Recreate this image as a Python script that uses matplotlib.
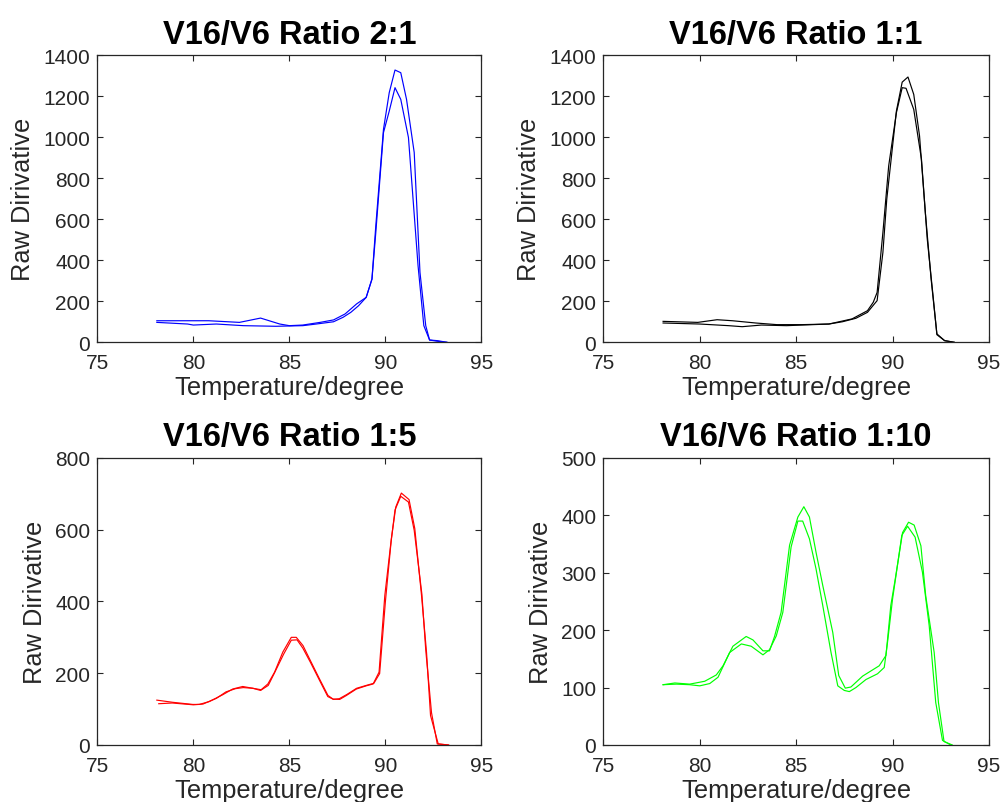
import matplotlib
matplotlib.use("Agg")
import matplotlib.pyplot as plt

plt.rcParams["font.family"] = ["Liberation Sans", "DejaVu Sans"]

# melt-curve derivative data (two replicates per ratio)
t_21a = [78.1, 80.8, 82.4, 83.5, 84.5, 85.0, 85.7, 86.6, 87.3, 87.9, 88.5, 89.0, 89.3,
         89.5, 89.9, 90.2, 90.5, 90.8, 91.1, 91.5, 91.8, 92.1, 92.3, 92.7, 93.2]
v_21a = [105, 105, 97, 118, 89, 81, 84, 97, 109, 138, 187, 219, 308,
         568, 1038, 1217, 1327, 1314, 1184, 925, 341, 81, 11, 8, 0]
t_21b = [78.1, 79.7, 80.0, 81.2, 82.6, 84.3, 85.7, 86.4, 87.3, 87.8, 88.2, 88.6, 89.0,
         89.3, 89.5, 89.9, 90.2, 90.5, 90.8, 91.2, 91.7, 92.0, 92.3, 92.7, 93.2]
v_21b = [97, 89, 84, 89, 81, 78, 81, 89, 100, 122, 146, 178, 219,
         308, 535, 1022, 1127, 1241, 1184, 998, 373, 81, 11, 5, 0]

t_11a = [78.1, 79.9, 80.9, 81.7, 82.9, 84.0, 85.3, 86.7, 87.4, 88.1, 88.7, 89.2,
         89.5, 89.7, 90.2, 90.5, 90.8, 91.1, 91.4, 91.7, 92.0, 92.3, 92.7, 93.2]
v_11a = [102, 97, 110, 105, 94, 86, 86, 89, 100, 117, 146, 203,
         438, 697, 1127, 1268, 1293, 1208, 1006, 633, 308, 41, 8, 0]
t_11b = [78.1, 80.0, 81.5, 82.2, 83.2, 84.5, 86.7, 87.9, 88.7, 89.0, 89.2, 89.5,
         89.8, 90.2, 90.5, 90.7, 91.1, 91.5, 91.8, 92.1, 92.3, 92.7, 93.2]
v_11b = [94, 89, 81, 76, 84, 81, 89, 114, 154, 195, 243, 535,
         860, 1119, 1241, 1238, 1135, 892, 503, 227, 37, 8, 0]

t_15a = [78.10, 78.92, 79.97, 80.31, 80.83, 81.53, 82.05, 82.57, 83.10, 83.53, 83.88, 84.23,
         84.66, 85.10, 85.36, 85.71, 86.05, 86.57, 87.01, 87.27, 87.62, 87.97, 88.49, 89.01,
         89.36, 89.67, 89.97, 90.31, 90.54, 90.83, 91.23, 91.53, 91.88, 92.14, 92.35, 92.75, 93.27]
v_15a = [125, 119, 113, 113, 121, 140, 156, 163, 158, 154, 170, 203,
         259, 300, 300, 277, 240, 184, 138, 128, 127, 138, 156, 165,
         170, 203, 417, 575, 663, 702, 684, 603, 417, 259, 82, 3, 0]
t_15b = [78.2, 78.9, 80.0, 80.5, 81.2, 81.7, 82.2, 82.6, 83.1, 83.5, 83.9, 84.2,
         84.7, 85.1, 85.4, 85.7, 86.1, 86.6, 87.0, 87.3, 87.6, 88.0, 88.5, 89.0,
         89.4, 89.7, 90.0, 90.3, 90.5, 90.8, 91.2, 91.5, 91.9, 92.1, 92.4, 92.7, 93.3]
v_15b = [115, 117, 112, 114, 130, 148, 157, 160, 158, 152, 166, 198,
         253, 292, 293, 270, 230, 177, 135, 127, 129, 141, 158, 166,
         172, 199, 400, 568, 655, 693, 677, 598, 420, 265, 90, 3, 0]

t_110a = [78.10, 78.71, 79.48, 80.26, 80.86, 81.21, 81.72, 82.41, 82.76, 83.28, 83.62, 83.88,
          84.22, 84.66, 85.09, 85.40, 85.69, 86.03, 86.38, 86.90, 87.21, 87.55, 87.84, 88.45,
          89.31, 89.66, 89.91, 90.14, 90.52, 90.83, 91.12, 91.47, 91.72, 92.16, 92.38, 92.67, 93.10]
v_110a = [105, 108, 106, 111, 122, 138, 172, 189, 183, 164, 164, 189,
          231, 348, 397, 415, 397, 336, 278, 196, 121, 99, 101, 120,
          138, 156, 243, 289, 370, 388, 383, 347, 260, 161, 74, 6, 0]
t_110b = [78.10, 78.79, 79.48, 80.00, 80.52, 80.95, 81.55, 82.16, 82.67, 83.28, 83.62, 83.97,
          84.31, 84.74, 85.09, 85.34, 85.69, 86.03, 86.38, 86.81, 87.16, 87.50, 87.76, 88.10,
          88.62, 89.22, 89.57, 89.74, 90.00, 90.48, 90.78, 91.17, 91.55, 91.90, 92.24, 92.59, 93.02]
v_110b = [105, 106, 105, 103, 107, 118, 161, 176, 172, 157, 166, 190,
          231, 345, 390, 390, 359, 307, 243, 161, 103, 95, 93, 100,
          114, 124, 135, 179, 254, 365, 381, 362, 301, 208, 74, 8, 0]

titles = ["V16/V6 Ratio 2:1", "V16/V6 Ratio 1:1", "V16/V6 Ratio 1:5", "V16/V6 Ratio 1:10"]
colors = ["#0000FF", "#000000", "#FF0000", "#00FF00"]
ylims = [1400, 1400, 800, 500]
ysteps = [200, 200, 200, 100]
xticks = [75, 80, 85, 90, 95]
curves = [((t_21a, v_21a), (t_21b, v_21b)),
          ((t_11a, v_11a), (t_11b, v_11b)),
          ((t_15a, v_15a), (t_15b, v_15b)),
          ((t_110a, v_110a), (t_110b, v_110b))]

GRAY = "#262626"
fig = plt.figure(figsize=(10.03, 8.03), dpi=100)
pos = [(0.097, 0.5725, 0.383, 0.3577), (0.6015, 0.5725, 0.3845, 0.3577),
       (0.097, 0.071, 0.383, 0.3575), (0.6015, 0.071, 0.3845, 0.3575)]

for i in range(4):
    ax = fig.add_axes(pos[i])
    for t, v in curves[i]:
        ax.plot(t, v, color=colors[i], lw=0.85)
    ax.set_xlim(75, 95)
    ax.set_ylim(0, ylims[i])
    ax.set_xticks(xticks)
    ax.set_yticks(range(0, ylims[i] + 1, ysteps[i]))
    ax.tick_params(direction="in", top=True, right=True, length=4, width=0.8,
                   labelsize=15, colors=GRAY)
    ax.tick_params(axis="x", pad=8)
    ax.tick_params(axis="y", pad=5)
    for s in ax.spines.values():
        s.set_color(GRAY)
        s.set_linewidth(0.9)
    ax.set_title(titles[i], fontsize=23.5, fontweight="bold", pad=9)
    ax.set_xlabel("Temperature/degree", fontsize=18.3, color=GRAY, labelpad=2)
    ax.set_ylabel("Raw Dirivative", fontsize=18.3, color=GRAY, labelpad=6)

fig.savefig("out.png", dpi=100, facecolor="white")
